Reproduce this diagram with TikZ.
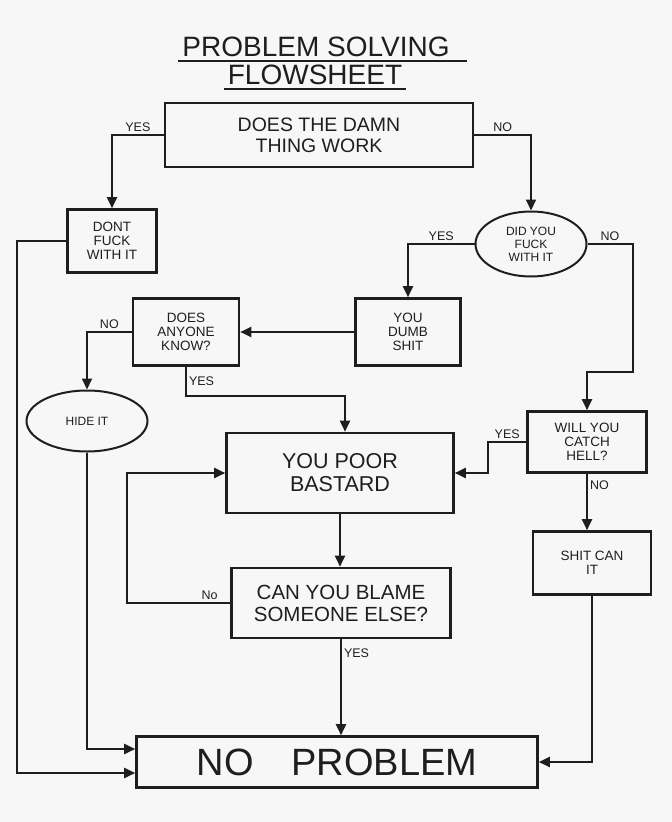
\documentclass[tikz,border=0pt]{standalone}
\usepackage{fontspec}
\setmainfont{Liberation Sans}
\usetikzlibrary{arrows.meta,shapes.geometric,positioning}
\definecolor{ink}{HTML}{1E1E1E}
\definecolor{paper}{HTML}{F7F7F7}

\begin{document}
\begin{tikzpicture}[
  x=1pt, y=-1pt,
  box/.style   = {rectangle, draw=ink, line width=2.6pt, align=center, inner sep=0pt,
                  text=ink, font=\fontsize{13.5}{14}\selectfont},
  oval/.style  = {ellipse, draw=ink, line width=2pt, align=center, inner sep=0pt,
                  text=ink, font=\fontsize{12}{13}\selectfont},
  title/.style = {inner sep=0pt, text=ink, font=\fontsize{28}{30}\selectfont},
  arr/.style   = {-{Triangle[length=11pt,width=10pt]}, line width=2pt, draw=ink},
  lbl/.style   = {inner sep=2pt, text=ink, font=\fontsize{12.5}{12.5}\selectfont},
]
  \fill[paper] (0,0) rectangle (672,822);

  \node[title] (ttl) at (316,47) {PROBLEM SOLVING};
  \node[title] (sub) at (315,75) {FLOWSHEET};
  \draw[ink, line width=2.2pt] ([xshift=-4pt,yshift=-4pt]ttl.south west) -- ([xshift=17pt,yshift=-4pt]ttl.south east);
  \draw[ink, line width=2.2pt] ([xshift=-4pt,yshift=-4pt]sub.south west) -- ([xshift=4pt,yshift=-4pt]sub.south east);

  \node[box, minimum width=308pt, minimum height=64pt, font=\fontsize{19.5}{21}\selectfont] (work) at (319,135)
    {DOES THE DAMN\\THING WORK};
  \node[box, minimum width=89pt, minimum height=63pt] (dont) at (112,241) {DONT\\FUCK\\WITH IT};
  \node[oval, minimum width=111pt, minimum height=65pt] (did) at (531,244) {DID YOU\\FUCK\\WITH IT};
  \node[box, minimum width=105pt, minimum height=67pt] (dumb) at (408,332) {YOU\\DUMB\\SHIT};
  \node[box, minimum width=106pt, minimum height=67pt] (anyone) at (186,332) {DOES\\ANYONE\\KNOW?};
  \node[oval, minimum width=121pt, minimum height=61pt] (hide) at (87,421) {HIDE IT};
  \node[box, minimum width=227pt, minimum height=80pt, font=\fontsize{21.5}{23}\selectfont] (bastard) at (340,473)
    {YOU POOR\\BASTARD};
  \node[box, minimum width=119pt, minimum height=61pt] (hell) at (587,442) {WILL YOU\\CATCH\\HELL?};
  \node[box, minimum width=118pt, minimum height=63pt] (shitcan) at (592,563) {SHIT CAN\\IT};
  \node[box, minimum width=219pt, minimum height=70pt, font=\fontsize{20.5}{22}\selectfont] (blame) at (341,603)
    {CAN YOU BLAME\\SOMEONE ELSE?};
  \node[box, minimum width=401pt, minimum height=51pt, font=\fontsize{38}{40}\selectfont] (noprob) at (337,762)
    {NO\quad PROBLEM};

  \draw[arr] (work.west) -| node[lbl, above, pos=0.25] (l1) {YES} (dont.north);
  \draw[arr] (work.east) -| node[lbl, above, pos=0.25] (l2) {NO} (did.north);
  \draw[arr] (did.west) -| node[lbl, above, pos=0.25] (l3) {YES} (dumb.north);
  \draw[arr] (did.east) -- node[lbl, above] (l4) {NO} ++(45,0) -- ++(0,128) -| (hell.north);
  \draw[arr] (dumb.west) -- (anyone.east);
  \draw[arr] (anyone.west) -| node[lbl, above, pos=0.25] (l5) {NO} (hide.north);
  \draw[arr] (anyone.south) -- node[lbl, right] (l6) {YES} ++(0,29) -| ([xshift=5pt]bastard.north);
  \draw[arr] (hell.west) -- node[lbl, above] (l7) {YES} ++(-38,0) |- (bastard.east);
  \draw[arr] (hell.south) -- node[lbl, right, pos=0.2] (l8) {NO} (hell.south |- shitcan.north);
  \draw[arr] (shitcan.south) |- (noprob.east);
  \draw[arr] (bastard.south) -- (bastard.south |- blame.north);
  \draw[arr] (blame.west) -- node[lbl, above, pos=0.2] (l9) {No} ++(-103,0) |- (bastard.west);
  \draw[arr] (blame.south) -- node[lbl, right, pos=0.15] (l10) {YES} (blame.south |- noprob.north);
  \draw[arr] (hide.south) |- ([yshift=13pt]noprob.west);
  \draw[arr] (dont.west) -- ++(-49,0) |- ([yshift=-11pt]noprob.west);
\end{tikzpicture}
\end{document}
